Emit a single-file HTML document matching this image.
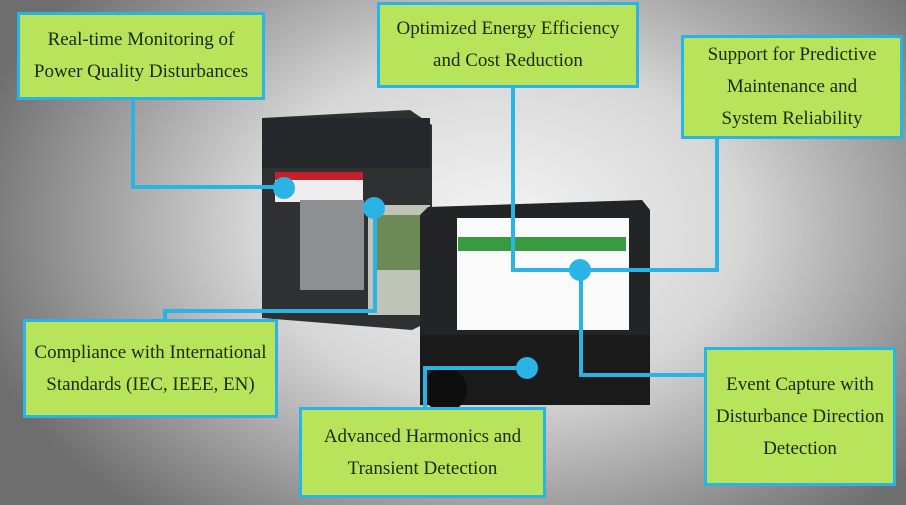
<!DOCTYPE html>
<html><head><meta charset="utf-8"><style>
*{margin:0;padding:0;box-sizing:border-box}
body{width:906px;height:505px;overflow:hidden;position:relative;
background:radial-gradient(ellipse 60% 75% at 55% 45%,#f4f4f4 0%,#d6d6d6 45%,#8a8a8a 85%,#6e6e6e 100%);
font-family:"Liberation Serif",serif}
.b{position:absolute;background:#b7e45a;border:3px solid #2ab4e6;display:flex;align-items:center;justify-content:center;text-align:center;font-size:19px;line-height:32px;color:#1e2a0e}
svg{position:absolute;left:0;top:0}
</style></head><body>
<svg width="906" height="505">
<!-- left meter -->
<polygon points="262,118 410,110 432,125 432,320 412,330 262,318" fill="#2f3032"/>
<rect x="262" y="118" width="168" height="50" fill="#26272a"/>
<rect x="275" y="172" width="88" height="26" fill="#c8202a"/>
<rect x="275" y="180" width="88" height="22" fill="#eee"/>
<rect x="300" y="200" width="64" height="90" fill="#8e8f92"/>
<rect x="368" y="205" width="62" height="110" fill="#bfc3b8"/>
<rect x="375" y="215" width="45" height="55" fill="#6b8a55"/>
<!-- display -->
<polygon points="428,207 642,200 650,210 650,400 430,404 420,395 420,215" fill="#232426"/>
<rect x="457" y="218" width="172" height="112" fill="#fafafa"/>
<rect x="458" y="237" width="168" height="14" fill="#3a9a40"/>
<rect x="420" y="335" width="230" height="70" fill="#1a1a1b"/>
<circle cx="445" cy="390" r="22" fill="#0e0e0e"/>
<g stroke="#2ab4e6" stroke-width="4" fill="none">
<polyline points="133,99 133,187 284,187"/>
<polyline points="375,208 375,311 165,311 165,319"/>
<polyline points="513,87 513,270 717,270 717,138"/>
<polyline points="581,270 581,375 704,375"/>
<polyline points="527,368 425,368 425,407"/>
</g>
<g fill="#2ab4e6">
<circle cx="284" cy="188" r="11"/><circle cx="374" cy="208" r="11"/>
<circle cx="580" cy="270" r="11"/><circle cx="527" cy="368" r="11"/>
</g>
</svg>
<div class="b" style="left:17px;top:12px;width:248px;height:88px">Real-time Monitoring of<br>Power Quality Disturbances</div>
<div class="b" style="left:377px;top:2px;width:262px;height:86px">Optimized Energy Efficiency<br>and Cost Reduction</div>
<div class="b" style="left:681px;top:35px;width:222px;height:104px">Support for Predictive<br>Maintenance and<br>System Reliability</div>
<div class="b" style="left:23px;top:319px;width:255px;height:99px">Compliance with International<br>Standards (IEC, IEEE, EN)</div>
<div class="b" style="left:299px;top:407px;width:247px;height:91px">Advanced Harmonics and<br>Transient Detection</div>
<div class="b" style="left:704px;top:347px;width:192px;height:139px">Event Capture with<br>Disturbance Direction<br>Detection</div>
</body></html>
